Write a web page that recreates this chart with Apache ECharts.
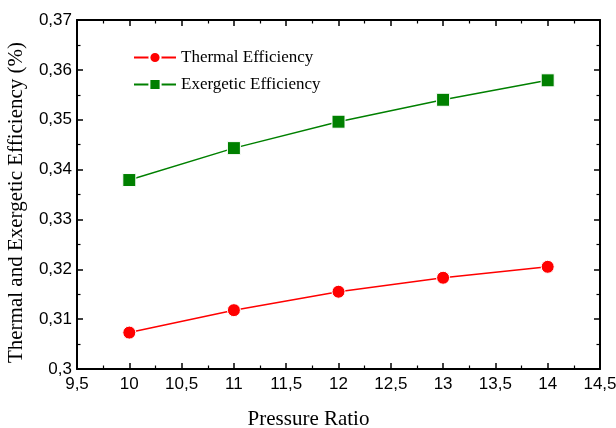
<!DOCTYPE html>
<html><head><meta charset="utf-8">
<script src="https://cdn.jsdelivr.net/npm/echarts@6/dist/echarts.min.js"></script>
<style>html,body{margin:0;padding:0;background:#fff}#c{width:616px;height:428px}</style>
</head><body><div id="c"></div>
<script>
const pressureRatio = [10, 11, 12, 13, 14];
const thermalEff = [0.3073, 0.3118, 0.3155, 0.3183, 0.3205];
const exergeticEff = [0.3379, 0.3443, 0.3496, 0.3540, 0.3579];
const seriesNames = ['Thermal Efficiency', 'Exergetic Efficiency'];
const xTitle = 'Pressure Ratio';
const yTitle = 'Thermal and Exergetic Efficiency (%)';

const fmt = v => {
  let s = (Math.round(v * 1000) / 1000).toString();
  return s.replace('.', ',');
};
const chart = echarts.init(document.getElementById('c'));
const axisLine = {show: true, lineStyle: {color: '#000', width: 2}};
const tick = {show: true, inside: true, length: 6, lineStyle: {color: '#000', width: 1.5}};
const minor = {show: true, splitNumber: 2, length: 3.5, lineStyle: {color: '#000', width: 1.2}};
const labelFont = {fontFamily: 'Liberation Sans, Arial, sans-serif', fontSize: 17, color: '#000'};
const serif = 'Liberation Serif, Times New Roman, serif';
chart.setOption({
  animation: false,
  grid: {left: 77, right: 16, top: 20, bottom: 59, containLabel: false, outerBoundsMode: 'none'},
  legend: {
    left: 133, top: 49, padding: 0, orient: 'vertical', itemGap: 10, itemWidth: 42, itemHeight: 14,
    textStyle: {fontFamily: serif, fontSize: 17, color: '#000'},
    data: seriesNames
  },
  xAxis: [{
    type: 'value', min: 9.5, max: 14.5, interval: 0.5,
    name: xTitle, nameLocation: 'middle', nameGap: 40,
    nameTextStyle: {fontFamily: serif, fontSize: 21, color: '#000', padding: [0, 60, 0, 0]},
    axisLine, axisTick: tick, minorTick: minor, splitLine: {show: false},
    axisLabel: Object.assign({margin: 7, formatter: fmt}, labelFont)
  }, {
    type: 'value', position: 'top', min: 9.5, max: 14.5, interval: 0.5,
    axisLine, axisTick: tick, minorTick: minor, splitLine: {show: false}, axisLabel: {show: false}
  }],
  yAxis: [{
    type: 'value', min: 0.30, max: 0.37, interval: 0.01,
    name: yTitle, nameLocation: 'middle', nameGap: 50,
    nameTextStyle: {fontFamily: serif, fontSize: 21, color: '#000', padding: [0, 16, 0, 0]},
    axisLine, axisTick: tick, minorTick: minor, splitLine: {show: false},
    axisLabel: Object.assign({margin: 5, formatter: fmt}, labelFont)
  }, {
    type: 'value', position: 'right', min: 0.30, max: 0.37, interval: 0.01,
    axisLine, axisTick: tick, minorTick: minor, splitLine: {show: false}, axisLabel: {show: false}
  }],
  series: [{
    name: seriesNames[0], type: 'line',
    data: pressureRatio.map((x, i) => [x, thermalEff[i]]),
    symbol: 'circle', symbolSize: 13,
    lineStyle: {color: '#ff0000', width: 1.5},
    itemStyle: {color: '#ff0000', borderColor: '#fff', borderWidth: 1}
  }, {
    name: seriesNames[1], type: 'line',
    data: pressureRatio.map((x, i) => [x, exergeticEff[i]]),
    symbol: 'rect', symbolSize: 13,
    lineStyle: {color: '#008000', width: 1.5},
    itemStyle: {color: '#008000', borderColor: '#fff', borderWidth: 1}
  }]
});
</script></body></html>
